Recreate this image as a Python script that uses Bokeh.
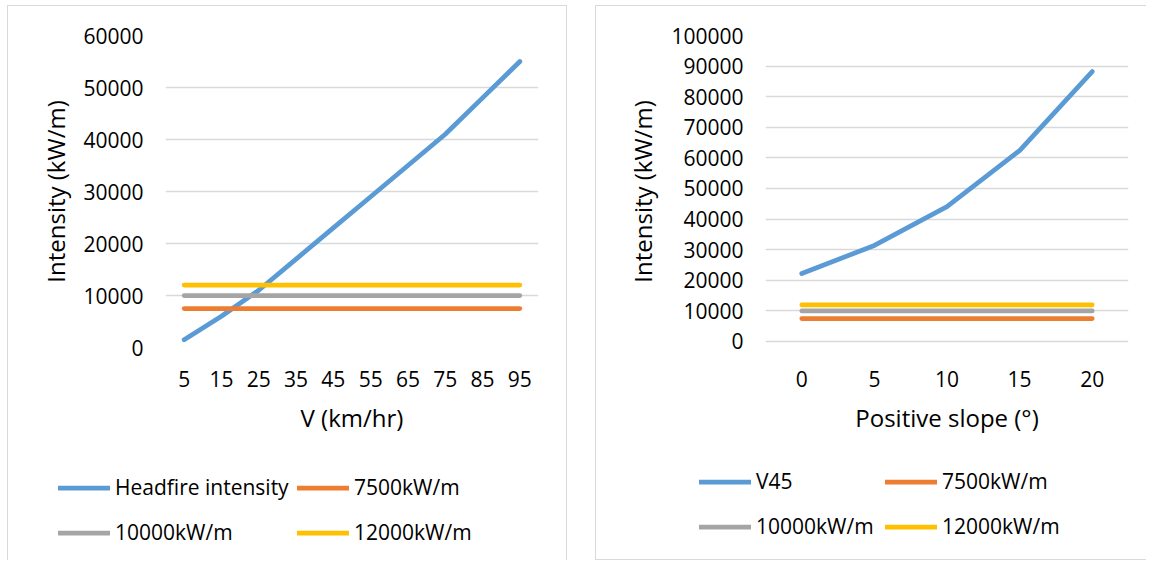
from bokeh.plotting import figure
from bokeh.models import FactorRange, Range1d, FixedTicker, Legend, LegendItem, NumeralTickFormatter
from bokeh.layouts import row
from bokeh.embed import file_html
from bokeh.resources import INLINE

# ---- data ----
speed = ["5", "15", "25", "35", "45", "55", "65", "75", "85", "95"]
headfire = [1500, 6000, 11000, 17000, 23000, 29000, 35000, 41000, 48000, 55000]

slope = ["0", "5", "10", "15", "20"]
v45 = [22200, 31400, 44100, 62400, 88200]

threshold_values = [7500, 10000, 12000]
threshold_labels = ["7500kW/m", "10000kW/m", "12000kW/m"]

left_ticks = [0, 10000, 20000, 30000, 40000, 50000, 60000]
right_ticks = [0, 10000, 20000, 30000, 40000, 50000, 60000, 70000, 80000, 90000, 100000]

FONT = "Open Sans"
TEXT = "#000000"
GRID = "#d9d9d9"
COLORS = ["#5b9bd5", "#ed7d31", "#a5a5a5", "#ffc000"]
LW = 4.75
BORDER = "1px solid #d9d9d9"


def add_lines(p, cats, series):
    # series drawn first, threshold lines on top (as in the original)
    rs = [p.line(cats, series, line_color=COLORS[0], line_width=LW,
                 line_cap="round", line_join="round")]
    for val, col in zip(threshold_values, COLORS[1:]):
        rs.append(p.line(cats, [val] * len(cats), line_color=col, line_width=LW, line_cap="round"))
    return rs


def make_chart(cats, series, ticks, y_start, x_title, width, mb_left, mb_right,
               title_standoff, border_css):
    p = figure(x_range=FactorRange(factors=cats, range_padding=0),
               y_range=Range1d(y_start, ticks[-1]),
               width=width, height=447, output_backend="svg",
               toolbar_location=None, min_border_left=mb_left,
               min_border_right=mb_right, min_border_top=29,
               min_border_bottom=106)
    p.outline_line_color = None
    p.xgrid.grid_line_color = None
    p.ygrid.grid_line_color = GRID
    p.ygrid.grid_line_width = 1.5
    p.yaxis.ticker = FixedTicker(ticks=ticks)
    p.yaxis.formatter = NumeralTickFormatter(format="0")
    for ax in (p.xaxis[0], p.yaxis[0]):
        ax.axis_line_color = None
        ax.major_tick_line_color = None
        ax.minor_tick_line_color = None
        ax.major_tick_out = 0
        ax.major_tick_in = 0
        ax.major_label_text_font = FONT
        ax.major_label_text_font_size = "21px"
        ax.major_label_text_color = TEXT
        ax.axis_label_text_font = FONT
        ax.axis_label_text_font_size = "24px"
        ax.axis_label_text_font_style = "normal"
        ax.axis_label_text_color = TEXT
    p.yaxis.major_label_standoff = 22
    p.xaxis.major_label_standoff = 23
    p.yaxis.axis_label = "Intensity (kW/m)"
    p.yaxis.axis_label_standoff = title_standoff
    p.xaxis.axis_label = x_title
    p.xaxis.axis_label_standoff = 11
    add_lines(p, cats, series)
    p.styles = border_css
    return p


def make_legend_strip(cats, series, series_label, width, locs, border_css):
    # the strip's copies of the series lie outside its view; only the legend shows
    lf = figure(x_range=FactorRange(factors=cats, range_padding=0),
                y_range=Range1d(-3, -2), width=width, height=108,
                x_axis_type=None, y_axis_type=None,
                output_backend="svg", toolbar_location=None,
                min_border_left=0, min_border_right=0, min_border_top=0,
                min_border_bottom=0)
    lf.grid.visible = False
    lf.outline_line_color = None
    rs = add_lines(lf, cats, series)
    labels = [series_label] + threshold_labels
    for lab, r, loc in zip(labels, rs, locs):
        lg = Legend(items=[LegendItem(label=lab, renderers=[r])], location=loc,
                    padding=0, margin=0, spacing=0,
                    glyph_width=52, glyph_height=35, label_height=35,
                    label_standoff=5, border_line_alpha=0, background_fill_alpha=0,
                    label_text_font=FONT, label_text_font_size="21px",
                    label_text_color=TEXT)
        lf.add_layout(lg, "center")
    lf.styles = border_css
    return lf


left_chart = make_chart(speed, headfire, left_ticks, 0, "V (km/hr)", 560, 157, 30, 8,
                        {"border-left": BORDER, "border-top": BORDER, "border-right": BORDER})
# right chart: frame spans the same pixels as the left; its 0 sits 6px above the frame bottom
right_chart = make_chart(slope, v45, right_ticks, -1961, "Positive slope (°)", 551, 169, 19, 9,
                         {"border-left": BORDER, "border-top": BORDER})

left_leg = make_legend_strip(speed, headfire, "Headfire intensity", 560,
                             [(50, 55.5), (289, 55.5), (50, 10.5), (289, 10.5)],
                             {"border-left": BORDER, "border-right": BORDER})
right_leg = make_legend_strip(slope, v45, "V45", 551,
                              [(103, 61.5), (289, 61.5), (103, 16.5), (289, 16.5)],
                              {"border-left": BORDER, "border-bottom": BORDER})

charts = row(left_chart, right_chart, spacing=28, margin=(5, 0, 0, 7))
legends = row(left_leg, right_leg, spacing=28, margin=(0, 0, 0, 7))

open("out.html", "w").write(file_html([charts, legends], INLINE))
